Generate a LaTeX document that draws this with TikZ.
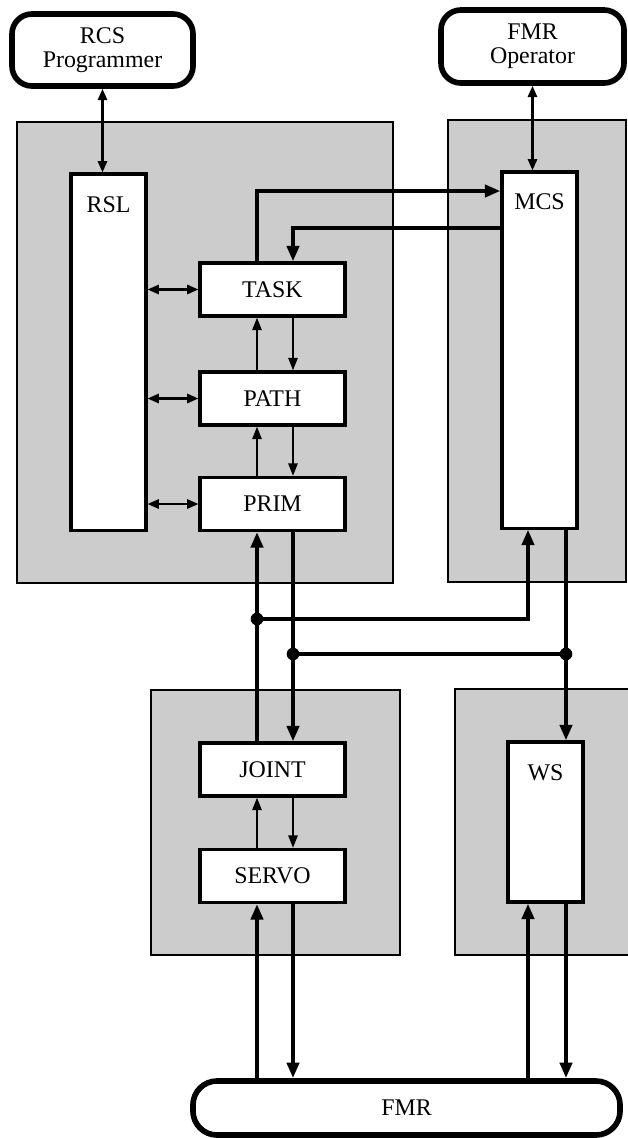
\documentclass[tikz,border=0pt]{standalone}
\usepackage{fontspec}
\setmainfont{Liberation Serif}
\usetikzlibrary{arrows.meta}
\begin{document}
\begin{tikzpicture}[
  x=0.025cm, y=-0.025cm,
  every node/.style={font=\fontsize{17}{17}\selectfont},
  panel/.style={draw, line width=1.9pt, fill=black!20},
  block/.style={draw, line width=2.2pt, fill=white, minimum width=3.625cm, minimum height=1.325cm, inner sep=0pt},
  module/.style={draw, line width=2.2pt, fill=white, minimum width=1.875cm, inner sep=0pt},
  actor/.style={draw, line width=4pt, rounded corners=0.5cm, fill=white, align=center, inner sep=0pt},
  link/.style={line width=1.7pt, -{Triangle[length=9pt,width=6.5pt]}},
  twoway/.style={line width=1.7pt, {Triangle[length=8pt,width=6.5pt]}-{Triangle[length=8pt,width=6.5pt]}},
  bus/.style={line width=3.5pt, -{Triangle[length=11pt,width=8.5pt]}}
]
\useasboundingbox (0,0) rectangle (628,1138);

\filldraw[panel] (17,122) rectangle (393,583);
\filldraw[panel] (448,120) rectangle (626,582);
\filldraw[panel] (151,690) rectangle (400,955);
\fill[panel, draw=none] (455,689) rectangle (628,955);
\draw[line width=1.9pt] (628,689) -- (455,689) -- (455,955) -- (628,955);

\node[actor, minimum width=4.525cm, minimum height=1.8cm] (rcs) at (102.5,50) {RCS\\Programmer};
\node[actor, minimum width=4.575cm, minimum height=1.825cm] (fmrop) at (532.5,46.5) {FMR\\Operator};
\node[actor, rounded corners=0.6cm, minimum width=10.675cm, minimum height=1.35cm] (fmr) at (406.5,1108) {FMR};

\node[module, minimum height=8.9cm, label={[anchor=north, inner sep=0pt, yshift=-17pt]north:RSL}] (rsl) at (108.5,352) {};
\node[module, minimum height=8.9cm, label={[anchor=north, inner sep=0pt, yshift=-16pt]north:MCS}] (mcs) at (539.5,350) {};
\node[module, minimum height=4cm, label={[anchor=north, inner sep=0pt, yshift=-17pt]north:WS}] (ws) at (545.5,822) {};

\node[block] (task) at (272.5,289.5) {TASK};
\node[block] (path) at (272.5,398.5) {PATH};
\node[block] (prim) at (272.5,504) {PRIM};
\node[block] (joint) at (272.5,769.5) {JOINT};
\node[block] (servo) at (272.5,876) {SERVO};

\coordinate (colL) at (257,0);
\coordinate (colR) at (293,0);
\coordinate (colLr) at (528,0);
\coordinate (colRr) at (566,0);
\coordinate (upL) at (257,191);
\coordinate (dnR) at (293,228);
\coordinate (j1) at (257,619);
\coordinate (j2) at (293,654);
\coordinate (j3) at (566,654);

\draw[twoway] (rcs.south) -- (rcs.south |- rsl.north);
\draw[twoway] (fmrop.south) -- (fmrop.south |- mcs.north);
\draw[twoway] (rsl.east |- task) -- (task.west);
\draw[twoway] (rsl.east |- path) -- (path.west);
\draw[twoway] (rsl.east |- prim) -- (prim.west);

\draw[bus] (task.north -| upL) |- (mcs.west |- upL);
\draw[bus] (mcs.west |- dnR) -| (task.north -| dnR);

\draw[link] (path.north -| colL) -- (task.south -| colL);
\draw[link] (task.south -| colR) -- (path.north -| colR);
\draw[link] (prim.north -| colL) -- (path.south -| colL);
\draw[link] (path.south -| colR) -- (prim.north -| colR);
\draw[link] (servo.north -| colL) -- (joint.south -| colL);
\draw[link] (joint.south -| colR) -- (servo.north -| colR);

\draw[bus] (joint.north -| colL) -- (prim.south -| colL);
\draw[bus] (j1) -| (mcs.south -| colLr);
\draw[bus] (prim.south -| colR) -- (joint.north -| colR);
\draw[bus, -] (j2) -- (j3);
\draw[bus] (mcs.south -| colRr) -- (ws.north -| colRr);
\fill (j1) circle (4.5pt) (j2) circle (4.5pt) (j3) circle (4.5pt);

\draw[bus] (fmr.north -| colL) -- (servo.south -| colL);
\draw[bus] (servo.south -| colR) -- (fmr.north -| colR);
\draw[bus] (fmr.north -| colLr) -- (ws.south -| colLr);
\draw[bus] (ws.south -| colRr) -- (fmr.north -| colRr);
\end{tikzpicture}
\end{document}
